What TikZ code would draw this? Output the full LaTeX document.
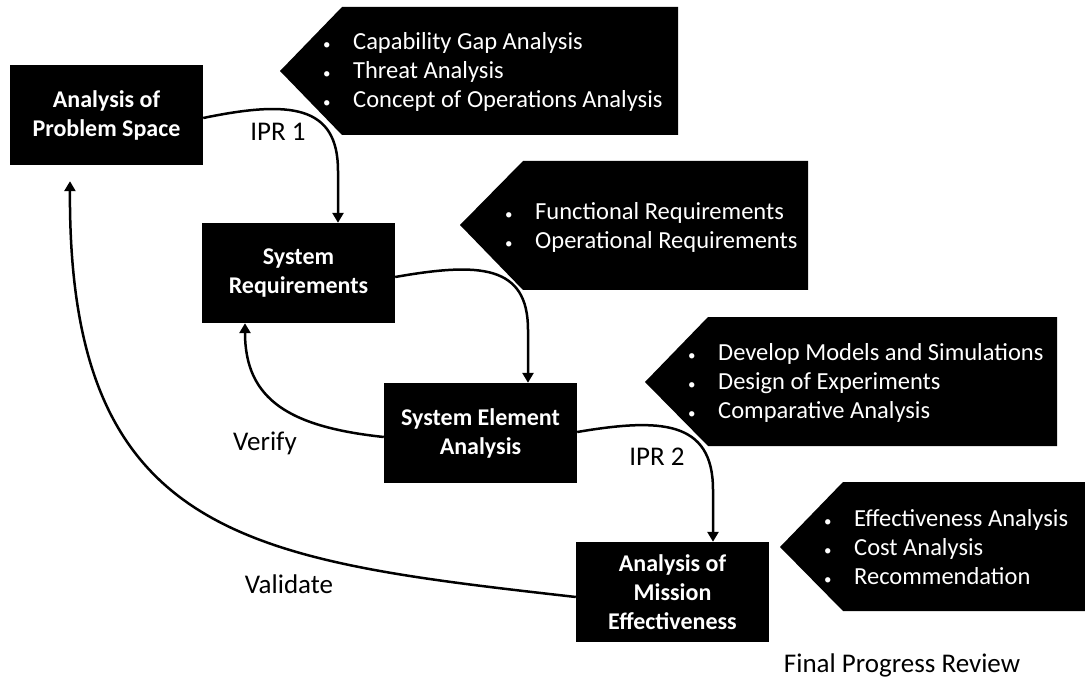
\documentclass[tikz,border=0pt]{standalone}
\usepackage{fontspec}
\setmainfont{Carlito}
\usetikzlibrary{arrows.meta}
\newcommand\bul{\llap{\makebox[30pt][l]{\fontsize{15}{15}\selectfont•}}}
\tikzset{
  box/.style={fill=black, text=white, font=\bfseries\fontsize{24}{29}\selectfont,
    align=center, minimum width=193pt, minimum height=100pt, inner sep=0pt},
  callout/.style={fill=black},
  items/.style={text=white, font=\fontsize{24.5}{29}\selectfont, align=left,
    anchor=west, inner sep=0pt},
  conn/.style={line width=2.5pt, -{Triangle[length=10pt,width=11pt]}},
  lbl/.style={font=\fontsize{27}{30}\selectfont, inner sep=0pt}
}
\begin{document}
\begin{tikzpicture}[x=1pt,y=-1pt]
\useasboundingbox[fill=white] (0,0) rectangle (1085,679);
% callouts
\fill[callout] (280,71) -- (342,7) -- (678,7) -- (678,135) -- (342,135) -- cycle;
\fill[callout] (460,225) -- (523,161) -- (808,161) -- (808,290) -- (523,290) -- cycle;
\fill[callout] (645,382) -- (708,317) -- (1057,317) -- (1057,446) -- (708,446) -- cycle;
\fill[callout] (780,547) -- (843,482) -- (1085,482) -- (1085,611) -- (843,611) -- cycle;
\node[items] (t1) at (353,72) {\bul Capability Gap Analysis\\\bul Threat Analysis\\\bul Concept of Operations Analysis};
\node[items] (t2) at (535,227) {\bul Functional Requirements\\\bul Operational Requirements};
\node[items] (t3) at (718,383) {\bul Develop Models and Simulations\\\bul Design of Experiments\\\bul Comparative Analysis};
\node[items] (t4) at (854,547) {\bul Effectiveness Analysis\\\bul Cost Analysis\\\bul Recommendation};
% boxes
\node[box] (A) at (106.5,115) {Analysis of\\Problem Space};
\node[box] (B) at (298.5,273) {System\\Requirements};
\node[box] (C) at (480.5,433) {System Element\\Analysis};
\node[box] (D) at (672.5,592) {Analysis of\\Mission\\Effectiveness};
% connectors
\draw[conn] ([yshift=-3pt]A.east) .. controls (290,100) and (338,105) .. ([xshift=39.5pt,yshift=52pt]B.north) -- ([xshift=39.5pt]B.north);
\draw[conn] ([yshift=-4pt]B.east) .. controls (480,262) and (528,265) .. ([xshift=47.5pt,yshift=53pt]C.north) -- ([xshift=47.5pt]C.north);
\draw[conn] ([yshift=-4pt]C.west) .. controls (290,427) and (245,400) .. ([xshift=-53.5pt]B.south);
\draw[conn] ([yshift=1pt]C.east) .. controls (660,418) and (713,420) .. ([xshift=40.5pt,yshift=52pt]D.north) -- ([xshift=40.5pt]D.north);
\draw[conn] ([yshift=-5pt]D.west) .. controls (250,560) and (68,540) .. ([xshift=-36.5pt,yshift=-16pt]A.south);
% labels
\node[lbl] (ipr1) at (278,132) {IPR 1};
\node[lbl] (ver) at (265,443) {Verify};
\node[lbl] (val) at (289,584) {Validate};
\node[lbl] (ipr2) at (657,457) {IPR 2};
\node[lbl] (fpr) at (902,665) {Final Progress Review};
\end{tikzpicture}
\end{document}
